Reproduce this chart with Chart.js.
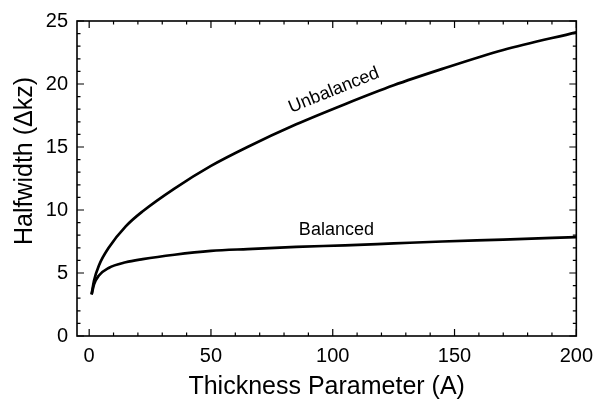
<!DOCTYPE html>
<html>
<head>
<meta charset="utf-8">
<script src="https://cdn.jsdelivr.net/npm/chart.js@4.4.1/dist/chart.umd.min.js"></script>
<style>
  html, body { margin: 0; padding: 0; background: #fff; }
  #wrap { width: 601px; height: 409px; position: relative; }
</style>
</head>
<body>
<div id="wrap"><canvas id="mainChart"></canvas></div>
<script>
// Values
const thickness  = [1, 2, 4, 8, 15, 22, 35, 50, 65, 85, 105, 125, 145, 170, 200];
const unbalanced = [3.3, 4.4, 5.6, 7.0, 8.7, 9.9, 11.7, 13.5, 15.0, 16.8, 18.4, 19.9, 21.2, 22.7, 24.1];
const balanced   = [3.3, 4.1, 4.8, 5.4, 5.85, 6.1, 6.45, 6.75, 6.9, 7.07, 7.2, 7.35, 7.5, 7.65, 7.85];

const xTicks = [0, 50, 100, 150, 200];
const yTicks = [0, 5, 10, 15, 20, 25];

const seriesNames = ['Unbalanced', 'Balanced'];
// where the curve names sit, in data units, and their tilt
const nameSpots = [
    { x: 100.5, y: 19.5, angle: -22 },
    { x: 101.5, y: 8.4, angle: 0 }
];

const FONT = "'Liberation Sans', Arial, Helvetica, sans-serif";

const toPoints = (xs, ys) => xs.map((x, i) => ({ x: x, y: ys[i] }));

// Box frame, inward ticks on all four sides, curve names and y title
const framePlugin = {
    id: 'frame',
    afterDatasetsDraw(chart) {
        const { ctx, chartArea: a, scales } = chart;
        const xs = scales.x, ys = scales.y;
        ctx.save();
        ctx.strokeStyle = '#000';
        ctx.lineWidth = 1.6;
        ctx.strokeRect(a.left, a.top, a.right - a.left, a.bottom - a.top);

        ctx.lineWidth = 1.2;
        ctx.beginPath();
        for (let v = 0; v <= 200; v += 10) {
            const px = xs.getPixelForValue(v);
            const len = v % 50 === 0 ? 7 : 3.5;
            ctx.moveTo(px, a.bottom); ctx.lineTo(px, a.bottom - len);
            ctx.moveTo(px, a.top); ctx.lineTo(px, a.top + len);
        }
        for (let v = 0; v <= 25; v += 1) {
            const py = ys.getPixelForValue(v);
            const len = v % 5 === 0 ? 7 : 3.5;
            ctx.moveTo(a.left, py); ctx.lineTo(a.left + len, py);
            ctx.moveTo(a.right, py); ctx.lineTo(a.right - len, py);
        }
        ctx.stroke();

        ctx.fillStyle = '#000';
        ctx.font = '18px ' + FONT;
        ctx.textAlign = 'center';
        ctx.textBaseline = 'middle';
        seriesNames.forEach((name, i) => {
            const s = nameSpots[i];
            ctx.save();
            ctx.translate(xs.getPixelForValue(s.x), ys.getPixelForValue(s.y));
            ctx.rotate(s.angle * Math.PI / 180);
            ctx.fillText(name, 0, 0);
            ctx.restore();
        });

        ctx.font = '25px ' + FONT;
        ctx.save();
        ctx.translate(25, 161);
        ctx.rotate(-Math.PI / 2);
        ctx.fillText('Halfwidth (\u0394kz)', 0, 0);
        ctx.restore();
        ctx.restore();
    }
};

const ctx = document.getElementById('mainChart').getContext('2d');
new Chart(ctx, {
    type: 'line',
    data: {
        datasets: [
            {
                label: seriesNames[0],
                data: toPoints(thickness, unbalanced),
                borderColor: '#000',
                borderWidth: 2.7,
                pointRadius: 0,
                fill: false,
                cubicInterpolationMode: 'monotone'
            },
            {
                label: seriesNames[1],
                data: toPoints(thickness, balanced),
                borderColor: '#000',
                borderWidth: 2.7,
                pointRadius: 0,
                fill: false,
                cubicInterpolationMode: 'monotone'
            }
        ]
    },
    options: {
        responsive: true,
        maintainAspectRatio: false,
        animation: false,
        layout: { padding: { left: 0, right: 19, top: 20, bottom: 0 } },
        scales: {
            x: {
                type: 'linear',
                min: -5,
                max: 200,
                afterBuildTicks: (s) => { s.ticks = xTicks.map(v => ({ value: v })); },
                afterFit: (s) => { s.height = 73; },
                grid: { display: false, drawTicks: false },
                border: { display: false },
                ticks: { color: '#000', padding: 8, font: { family: FONT, size: 20 }, maxRotation: 0 },
                title: {
                    display: true,
                    text: 'Thickness Parameter (A)',
                    color: '#000',
                    font: { family: FONT, size: 25 },
                    padding: { top: 0, bottom: 7 }
                }
            },
            y: {
                min: 0,
                max: 25,
                afterBuildTicks: (s) => { s.ticks = yTicks.map(v => ({ value: v })); },
                afterFit: (s) => { s.width = 77; },
                grid: { display: false, drawTicks: false },
                border: { display: false },
                ticks: { color: '#000', padding: 9, font: { family: FONT, size: 20 } }
            }
        },
        plugins: {
            legend: { display: false },
            tooltip: { enabled: false }
        }
    },
    plugins: [framePlugin]
});
</script>
</body>
</html>
